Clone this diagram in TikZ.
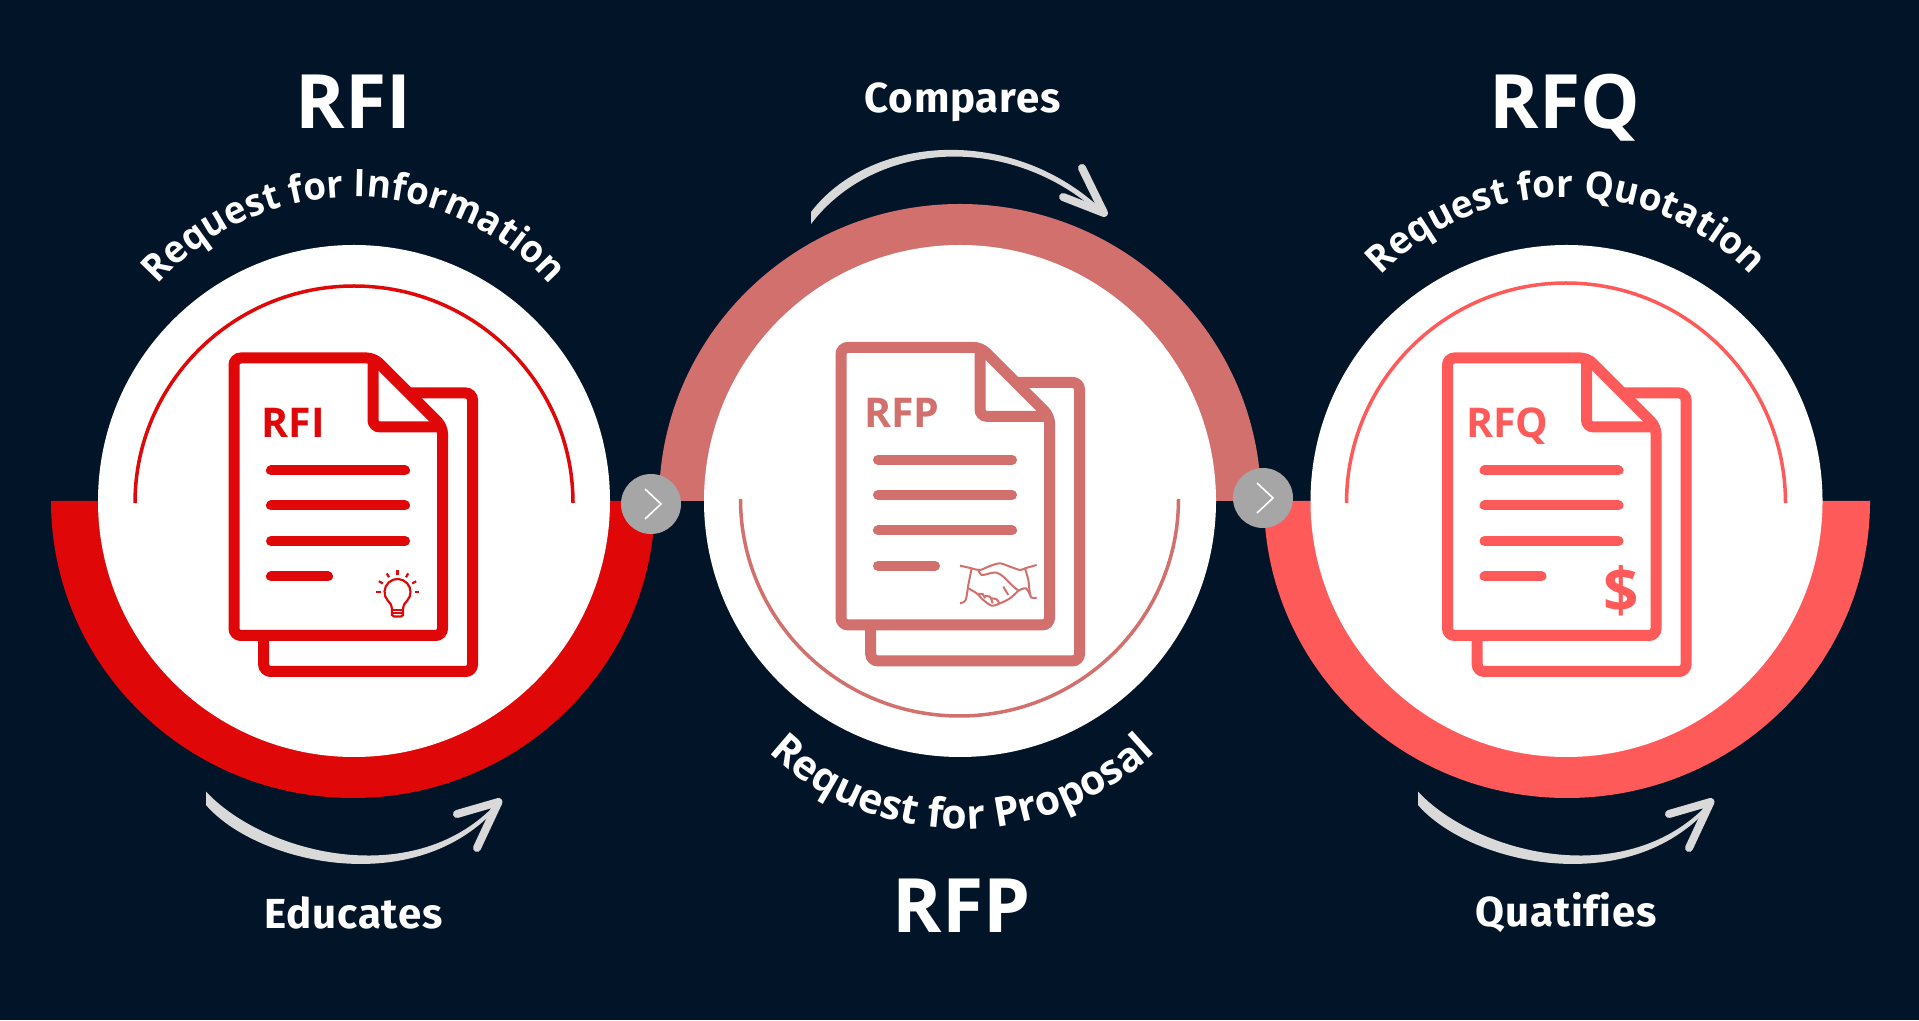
\documentclass[tikz,border=0pt]{standalone}
\usepackage{fontspec}
\setmainfont{Open Sans}
\newfontfamily\captionfont[LetterSpace=2,Ligatures=NoCommon]{Fira Sans}
\usetikzlibrary{decorations.text}
\definecolor{bgdark}{HTML}{021528}
\definecolor{rfired}{HTML}{DF0707}
\definecolor{rfprose}{HTML}{D2706E}
\definecolor{rfqcoral}{HTML}{FF5A5A}
\definecolor{chipgrey}{HTML}{A6A6A6}
\definecolor{arrowgrey}{HTML}{D9D9D9}
\tikzset{
  bigtitle/.style={anchor=base,inner sep=0pt,text=white,font=\fontsize{75}{75}\selectfont\bfseries},
  verbcap/.style={anchor=base,inner sep=0pt,text=white,font=\captionfont\fontsize{42}{42}\selectfont\bfseries},
  doclabel/.style={anchor=base,inner sep=0pt,font=\fontsize{41}{41}\selectfont\bfseries},
  thinarc/.style={line width=3.5pt},
  chevron/.style={draw=white,line width=1.6pt},
  arrowhead/.style={draw=arrowgrey,line width=8pt,line cap=round,line join=round},
  bendtext/.style n args={3}{decorate,decoration={text along path,text align=center,text color=white,
    text={|\fontsize{#1}{#1}\selectfont\bfseries\addfontfeature{FakeStretch=#2}|#3}}}
}
% stacked pages with the text bars
\newcommand{\docicon}[3]{
  \begin{scope}[shift={(#1,#2)},draw=#3]
    \draw[line width=11pt,rounded corners=7pt] (400,627) -- (472.5,627) -- (472.5,348.5) -- (263.7,348.5) -- (263.7,400);
    \draw[fill=white,line width=11pt,rounded corners=7pt] (234,662) -- (373.75,662) -- (442.5,593.25) -- (442.5,384.5) -- (234,384.5) -- cycle;
    \draw[line width=11pt,rounded corners=7pt] (373,662) -- (373,593) -- (442.5,593);
    \foreach \ybar/\xend in {549.5/405,514.5/405,479/405,443.5/328}
      \draw[line width=10pt,line cap=round] (271,\ybar) -- (\xend,\ybar);
  \end{scope}
}
\begin{document}
\begin{tikzpicture}[x=1pt,y=1pt]
  \fill[bgdark] (0,0) rectangle (1919,1020);
  % Rings
  \fill[rfired] (51,519) arc[start angle=180,end angle=360,x radius=302,y radius=297] -- cycle;
  \fill[rfprose] (659,519) arc[start angle=180,end angle=0,x radius=301,y radius=297] -- cycle;
  \fill[rfqcoral] (1264,519) arc[start angle=180,end angle=360,x radius=303,y radius=297] -- cycle;
  % White discs
  \fill[white] (354,519) circle (256);
  \fill[white] (960,519) circle (256);
  \fill[white] (1566.5,519) circle (256);
  % Thin arcs
  \draw[thinarc,rfired] (135,517) arc[start angle=180,end angle=0,x radius=219,y radius=217];
  \draw[thinarc,rfprose] (740.5,521) arc[start angle=180,end angle=360,x radius=219,y radius=217];
  \draw[thinarc,rfqcoral] (1346.5,517) arc[start angle=180,end angle=0,x radius=219.5,y radius=220];
  % Documents
  \docicon{0}{0}{rfired}
  \docicon{607}{10.6}{rfprose}
  \docicon{1213.5}{0}{rfqcoral}
  \node[doclabel,text=rfired] (rfilabel) at (293.5,582) {RFI};
  \node[doclabel,text=rfprose] (rfplabel) at (902,592) {RFP};
  \node[doclabel,text=rfqcoral] (rfqlabel) at (1507.5,582) {RFQ};
  % Bulb
  \begin{scope}[rfired,line width=2.2pt]
    \draw (387.84,419.3) arc[start angle=222,end angle=-42,radius=13] .. controls (403.5,415) .. (403,411) -- (403,405) -- (401,403.5) -- (394,403.5) -- (392,405) -- (392,411) .. controls (391.5,415) .. (387.84,419.3);
    \draw (392,410) -- (403,410);
    \draw (392,407) -- (403,407);
    \foreach \ang in {0,30,...,180}
      \draw ([shift={(397.5,428)}]\ang:17) -- ([shift={(397.5,428)}]\ang:21.5);
  \end{scope}
  % Handshake
  \begin{scope}[shift={(800,500)},x=0.3333pt,y=-0.3333pt,rfprose,line width=2pt]
    \draw plot[smooth] coordinates {(480,137) (515,145) (540,150) (570,138) (600,130) (630,140) (660,150) (675,145) (710,135)};
    \draw plot[smooth] coordinates {(515,145) (505,195) (497,240) (480,250)};
    \draw plot[smooth] coordinates {(675,145) (685,180) (692,230) (710,233)};
    \draw plot[smooth] coordinates {(535,150) (545,165) (570,160) (590,158) (610,170) (635,195) (655,212)};
    \draw plot[smooth] coordinates {(655,212) (678,205) (692,228)};
    \draw plot[smooth] coordinates {(505,205) (530,220) (550,240) (575,257) (600,250) (630,235) (655,212)};
    \draw plot[smooth] coordinates {(535,222) (548,222) (555,235)};
    \draw plot[smooth] coordinates {(555,228) (570,230) (578,250)};
    \draw plot[smooth] coordinates {(575,235) (590,238) (598,250)};
    \draw (610,200) -- (625,225);
  \end{scope}
  % Dollar
  \node[inner sep=0pt,text=rfqcoral,font=\fontsize{62}{62}\selectfont\bfseries] (dollar) at (1621.5,429) {\$};
  % Curved names
  \path[bendtext={38}{0.964}{Request for Information}] ([shift={(354,561)}]140:262) arc[start angle=140,end angle=40,radius=262];
  \path[bendtext={38}{0.975}{Request for Quotation}] ([shift={(1566,565)}]140:258) arc[start angle=140,end angle=40,radius=258];
  \path[bendtext={41}{1}{Request for Proposal}] ([shift={(962,474)}]220:283) arc[start angle=220,end angle=320,radius=283];
  % Titles
  \node[bigtitle] (rfititle) at (353.5,891) {RFI};
  \node[bigtitle] (rfptitle) at (961.5,87) {RFP};
  \node[bigtitle] (rfqtitle) at (1565,891) {RFQ};
  \node[verbcap] (educates) at (353.5,92) {Educates};
  \node[verbcap] (compares) at (962.5,907) {Compares};
  \node[verbcap] (quatifies) at (1566,93) {Quatifies};
  % Sweep arrows
  \foreach \xshift in {0,1212} {
    \fill[arrowgrey,xshift=\xshift] (206,228.4) .. controls (262,168) and (410,128) .. (494,214) -- (494,209) .. controls (410,120) and (255,158) .. (206,215) -- cycle;
    \draw[arrowhead,xshift=\xshift] (457,206) -- (498.5,218) -- (477,172);
  }
  \fill[arrowgrey] (811,808) .. controls (870,885) and (1010,895) .. (1100,812) -- (1100,806) .. controls (1010,888) and (875,880) .. (811,796) -- cycle;
  \draw[arrowhead] (1082,852) -- (1104,807) -- (1063,823);
  % Chips
  \fill[chipgrey] (651,516) circle (30);
  \draw[chevron] (645,531) -- (661,516) -- (645,501);
  \fill[chipgrey] (1263,522) circle (30);
  \draw[chevron] (1257,537) -- (1273,522) -- (1257,507);
\end{tikzpicture}
\end{document}
